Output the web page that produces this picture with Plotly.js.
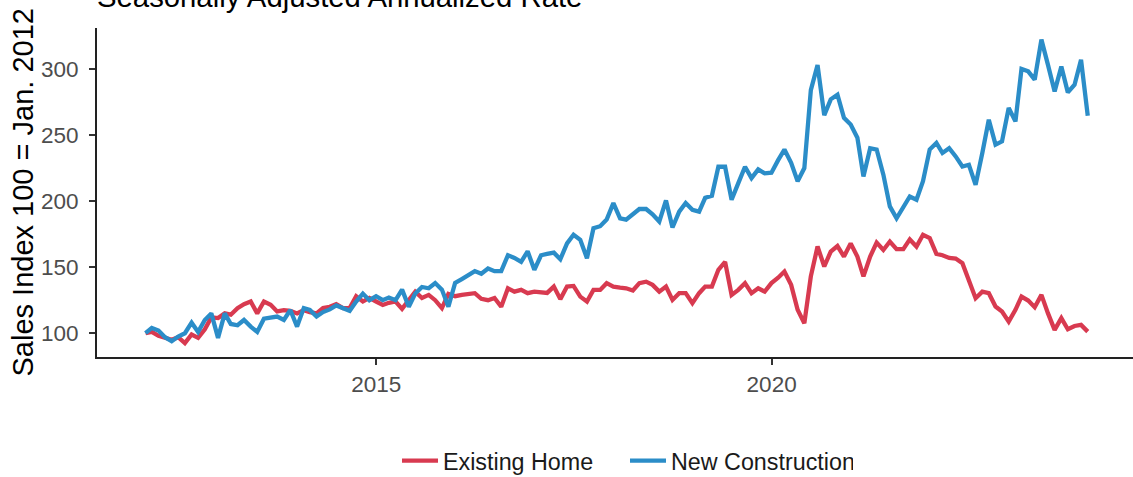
<!DOCTYPE html>
<html>
<head>
<meta charset="utf-8">
<script src="https://cdn.plot.ly/plotly-3.0.1.min.js"></script>
<style>html,body{margin:0;padding:0;background:#fff;}#chart{width:1133px;height:477px;}</style>
</head>
<body>
<div id="chart"></div>
<script>
// Monthly series, Jan 2012 - Dec 2023 (index 100 = Jan 2012)
const startYear = 2012;
const startMonth = 1;
const seriesNames = ["Existing Home", "New Construction"];
const tickYears = ["2015", "2020"];
const yTicks = [100, 150, 200, 250, 300];

const existingHome = [
  100, 101, 98, 96.5, 95, 97, 92.5, 99, 96.5, 103, 112, 111.5,
  115, 114, 119, 122, 124, 115, 124, 121.5, 116.5, 117.5, 117, 115,
  117.5, 116, 115, 119, 120, 122, 119, 119, 128, 124, 126.7, 124,
  121.4, 123, 124, 118.4, 125, 131.5, 126.7, 129, 125, 119, 129.8, 128,
  129, 129.8, 130.3, 126, 125, 126.7, 120, 134, 131.5, 132.8, 130.3, 131.5,
  131, 130.5, 135.3, 125.8, 135.3, 135.8, 127.7, 124, 132.8, 132.8, 137.9, 135.3,
  134.5, 134, 132.3, 137.9, 139, 136.6, 131.5, 135.3, 125.2, 130.3, 130.3, 122.7,
  130.3, 135.3, 135.3, 148, 154, 129, 132.8, 137.9, 130.3, 134, 131.5, 137.9,
  142, 146.7, 136.6, 117.7, 107.6, 143, 165.6, 150.5, 161.8, 166, 158, 168,
  158, 143, 158, 168.6, 163, 169.4, 163.6, 163.6, 171, 165.6, 174.5, 172,
  160, 159, 157, 156.5, 153, 140, 126.5, 131.5, 130.3, 120.2, 116.4, 108.8,
  117.7, 127.7, 124.7, 119.7, 129, 115.2, 102.5, 111.4, 103, 105.5, 106.3, 101.2
];

const newConstruction = [
  100, 104, 102, 97, 94, 97.5, 100, 108, 101, 110, 115, 96.5,
  115, 107, 106, 110, 105, 101, 111, 112, 112.6, 110, 117.6, 105,
  119, 117.6, 112.6, 116, 118, 121, 119, 117, 124, 130, 125, 128,
  125, 127, 125, 133, 120, 130, 135, 134, 138, 133, 120, 138,
  141, 144, 147, 145, 149, 147, 147, 159, 157, 154, 162, 148,
  159, 160, 161, 156, 168, 174.5, 170.7, 156.8, 179.5, 181, 186, 198.5,
  187, 186, 189.6, 194, 194, 190, 184.5, 200.5, 180, 192, 198.5, 193.4,
  192, 202.5, 204, 226, 226, 201, 213.6, 226, 217.4, 224, 221, 221.5,
  231, 239, 229, 215, 225, 284, 303, 265, 277, 280.5, 263, 258,
  248, 218.6, 240, 239, 220, 196, 187, 194.7, 203.5, 201, 215, 239,
  244, 236.4, 240, 233.8, 226.2, 227.5, 212.3, 236.4, 261.6, 242.7, 245.2, 270.5,
  260.3, 300, 298.2, 291.9, 322.2, 303.3, 283, 301.8, 282.3, 288.1, 307, 264.6
];

// month-end dates
function monthEnd(i) {
  const d = new Date(Date.UTC(startYear, startMonth - 1 + i + 1, 0));
  return d.toISOString().slice(0, 10);
}
const dates = existingHome.map((_, i) => monthEnd(i));

const colors = ["#d83a50", "#2b8dc8"];

const traces = [
  {x: dates, y: existingHome, name: seriesNames[0], type: "scatter", mode: "lines",
   line: {color: colors[0], width: 4.3}},
  {x: dates, y: newConstruction, name: seriesNames[1], type: "scatter", mode: "lines",
   line: {color: colors[1], width: 4.3}}
];

const W = 1133, H = 477, ml = 97, mr = 0, mt = 28, mb = 120;
const pw = W - ml - mr, ph = H - mt - mb;
const fontFam = "Liberation Sans, Arial, Helvetica, sans-serif";

const layout = {
  width: W, height: H,
  margin: {l: ml, r: mr, t: mt, b: mb, pad: 0, autoexpand: false},
  paper_bgcolor: "#ffffff", plot_bgcolor: "#ffffff",
  font: {family: fontFam, color: "#000"},
  showlegend: true,
  legend: {orientation: "h", xref: "container", yref: "container",
    x: 397 / W, xanchor: "left", y: (H - 461) / H, yanchor: "middle",
    font: {size: 23.3, color: "#1a1a1a", family: fontFam}, itemwidth: 36,
    entrywidth: 177, entrywidthmode: "pixels", bgcolor: "rgba(0,0,0,0)"},
  xaxis: {
    type: "date",
    range: ["2011-06-21", "2024-07-27"],
    tickvals: tickYears.map(y => y + "-01-01"),
    ticktext: tickYears,
    showgrid: false, zeroline: false,
    showline: true, linecolor: "#222", linewidth: 2,
    ticks: "outside", ticklen: 6, tickwidth: 1.8, tickcolor: "#333",
    tickfont: {size: 22.5, color: "#4d4d4d", family: fontFam}
  },
  yaxis: {
    range: [82, 331],
    tickvals: yTicks,
    showgrid: false, zeroline: false,
    showline: true, linecolor: "#222", linewidth: 2,
    ticks: "outside", ticklen: 6, tickwidth: 1.8, tickcolor: "#333",
    tickfont: {size: 22.5, color: "#4d4d4d", family: fontFam},
    ticklabelstandoff: 6
  },
  annotations: [
    {text: "Sales Index 100 = Jan. 2012", textangle: -90, xref: "paper", yref: "paper",
     x: (22 - ml) / pw, y: 0.5, xanchor: "center", yanchor: "middle", showarrow: false,
     font: {size: 29, color: "#000", family: fontFam}},
    {text: "Seasonally Adjusted Annualized Rate", xref: "paper", yref: "paper",
     x: (95 - ml) / pw, y: (mt + ph - 15) / ph, xanchor: "left", yanchor: "bottom", showarrow: false,
     font: {size: 29.3, color: "#000", family: fontFam}}
  ]
};

Plotly.newPlot("chart", traces, layout, {displayModeBar: false, staticPlot: true});
</script>
</body>
</html>
